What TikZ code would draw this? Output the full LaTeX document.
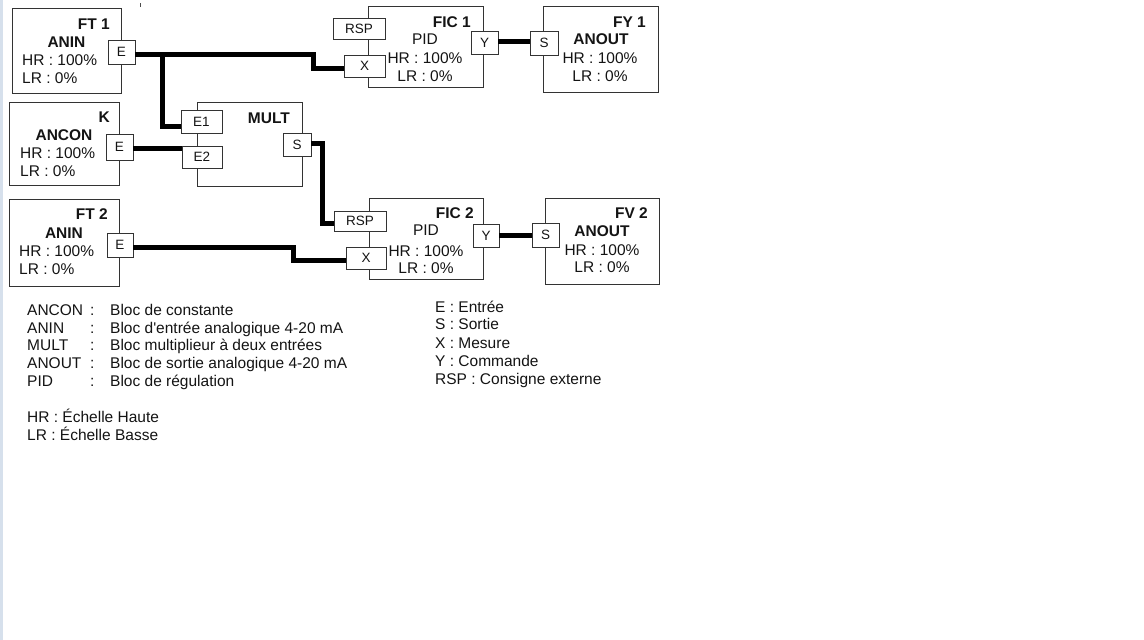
\documentclass[tikz,border=0pt]{standalone}
\usepackage{fontspec}
\setmainfont{Liberation Sans}[Ligatures=TeXOff]
\newcommand\bfs{\fontsize{15.5}{18}\selectfont}
\newcommand\pfs{\fontsize{13.5}{15}\selectfont}
\definecolor{strip}{HTML}{D6E0EC}
\definecolor{ink}{HTML}{141414}
\begin{document}
\begin{tikzpicture}[x=1pt,y=-1pt,
  blk/.style={draw=black!80, line width=0.9pt, fill=white, inner sep=0, anchor=north west},
  port/.style={draw=black!80, line width=0.9pt, fill=white, inner sep=0, font=\pfs, text=ink},
  wire/.style={line width=5pt, line join=miter, draw=black},
  lbl/.style={inner sep=0, font=\bfs, text=ink},
  bld/.style={inner sep=0, font=\bfs\bfseries, text=ink}]
\useasboundingbox (0,0) rectangle (1144,640);
\fill[white] (0,0) rectangle (1144,640);
\fill[strip] (0,0) rectangle (3,640);
\draw[line width=0.8pt, black!70] (140.7,3) -- (140.7,6.5);

% blocks
\node[blk, minimum width=109, minimum height=85] (ft1) at (12,8) {};
\node[blk, minimum width=110, minimum height=83] (k) at (9,102) {};
\node[blk, minimum width=110, minimum height=87] (ft2) at (9,199) {};
\node[blk, minimum width=105, minimum height=84] (mult) at (197,102) {};
\node[blk, minimum width=115, minimum height=81] (fic1) at (368,6) {};
\node[blk, minimum width=115, minimum height=86] (fy1) at (543,6) {};
\node[blk, minimum width=114, minimum height=81] (fic2) at (369,198) {};
\node[blk, minimum width=114, minimum height=86] (fv2) at (545,198) {};

% ports
\node[port, minimum width=27, minimum height=24] (ft1e) at (121.5,52) {E};
\node[port, minimum width=27, minimum height=26] (ke) at (119.5,147) {E};
\node[port, minimum width=26, minimum height=24] (ft2e) at (120,245) {E};
\node[port, minimum width=41, minimum height=23] (e1) at (201.5,121.5) {E1};
\node[port, minimum width=40, minimum height=22] (e2) at (202,157) {E2};
\node[port, minimum width=28, minimum height=23] (ms) at (297,144.5) {S};
\node[port, minimum width=52, minimum height=21] (rsp1) at (359,28.5) {RSP};
\node[port, minimum width=41, minimum height=22] (x1) at (364.5,66) {X};
\node[port, minimum width=27, minimum height=23] (y1) at (484.5,42.5) {Y};
\node[port, minimum width=28, minimum height=24] (s1) at (544,43) {S};
\node[port, minimum width=52, minimum height=20] (rsp2) at (360,221) {RSP};
\node[port, minimum width=40, minimum height=22] (x2) at (366,258) {X};
\node[port, minimum width=26, minimum height=23] (y2) at (486,235.5) {Y};
\node[port, minimum width=27, minimum height=24] (s2) at (545.5,235) {S};

% wires
\coordinate (a1) at (162,54);
\coordinate (c1) at (313,54);
\coordinate (c2) at (313,68);
\draw[wire] (ft1e.east |- a1) -- (c1) -- (c2) -- (c2 -| x1.west);
\coordinate (a2) at (162,126);
\draw[wire] (a1) -- (a2) -- (a2 -| e1.west);
\coordinate (a3) at (140,148);
\draw[wire] (ke.east |- a3) -- (e2.west |- a3);
\coordinate (a4) at (322,143);
\coordinate (a5) at (322,223);
\draw[wire] (ms.east |- a4) -- (a4) -- (a5) -- (a5 -| rsp2.west);
\coordinate (a6) at (293,247);
\coordinate (a7) at (293,260);
\draw[wire] (ft2e.east |- a6) -- (a6) -- (a7) -- (a7 -| x2.west);
\coordinate (a8) at (500,41);
\draw[wire] (y1.east |- a8) -- (s1.west |- a8);
\coordinate (a9) at (500,235);
\draw[wire] (y2.east |- a9) -- (s2.west |- a9);

% FT1 texts
\node[bld, anchor=base east] (t1) at (110,29) {FT 1};
\node[bld, anchor=base] (t2) at (66.5,47.5) {ANIN};
\node[lbl, anchor=base west] (t3) at (22,65) {HR : 100\%};
\node[lbl, anchor=base west] (t4) at (22,83) {LR : 0\%};
% K texts
\node[bld, anchor=base east] (t5) at (110,122) {K};
\node[bld, anchor=base] (t6) at (64,140) {ANCON};
\node[lbl, anchor=base west] (t7) at (20,158) {HR : 100\%};
\node[lbl, anchor=base west] (t8) at (20,176) {LR : 0\%};
% FT2 texts
\node[bld, anchor=base east] (t9) at (108,219) {FT 2};
\node[bld, anchor=base] (t10) at (64,238) {ANIN};
\node[lbl, anchor=base west] (t11) at (19,256) {HR : 100\%};
\node[lbl, anchor=base west] (t12) at (19,274) {LR : 0\%};
% MULT
\node[bld, anchor=base east] (t13) at (290,123) {MULT};
% FIC1
\node[bld, anchor=base east] (t14) at (471,27) {FIC 1};
\node[lbl, anchor=base] (t15) at (425,44) {PID};
\node[lbl, anchor=base] (t16) at (425,63) {HR : 100\%};
\node[lbl, anchor=base] (t17) at (425,81) {LR : 0\%};
% FY1
\node[bld, anchor=base east] (t18) at (646,27) {FY 1};
\node[bld, anchor=base] (t19) at (601,44) {ANOUT};
\node[lbl, anchor=base] (t20) at (600,63) {HR : 100\%};
\node[lbl, anchor=base] (t21) at (600,81) {LR : 0\%};
% FIC2
\node[bld, anchor=base east] (t22) at (474,218) {FIC 2};
\node[lbl, anchor=base] (t23) at (426,235) {PID};
\node[lbl, anchor=base] (t24) at (426,256) {HR : 100\%};
\node[lbl, anchor=base] (t25) at (426,273) {LR : 0\%};
% FV2
\node[bld, anchor=base east] (t26) at (648,218) {FV 2};
\node[bld, anchor=base] (t27) at (602,236) {ANOUT};
\node[lbl, anchor=base] (t28) at (602,255) {HR : 100\%};
\node[lbl, anchor=base] (t29) at (602,272) {LR : 0\%};

% legend left
\node[lbl, anchor=base west] (l1) at (27,315) {ANCON};
\node[lbl, anchor=base west] (l2) at (27,333) {ANIN};
\node[lbl, anchor=base west] (l3) at (27,350) {MULT};
\node[lbl, anchor=base west] (l4) at (27,368) {ANOUT};
\node[lbl, anchor=base west] (l5) at (27,386) {PID};
\node[lbl, anchor=base west] (k1) at (90,315) {:};
\node[lbl, anchor=base west] (k2) at (90,333) {:};
\node[lbl, anchor=base west] (k3) at (90,350) {:};
\node[lbl, anchor=base west] (k4) at (90,368) {:};
\node[lbl, anchor=base west] (k5) at (90,386) {:};
\node[lbl, anchor=base west] (d1) at (110,315) {Bloc de constante};
\node[lbl, anchor=base west] (d2) at (110,333) {Bloc d'entrée analogique 4-20 mA};
\node[lbl, anchor=base west] (d3) at (110,350) {Bloc multiplieur à deux entrées};
\node[lbl, anchor=base west] (d4) at (110,368) {Bloc de sortie analogique 4-20 mA};
\node[lbl, anchor=base west] (d5) at (110,386) {Bloc de régulation};
\node[lbl, anchor=base west] (h1) at (27,422) {HR : Échelle Haute};
\node[lbl, anchor=base west] (h2) at (27,440) {LR : Échelle Basse};
% legend right
\node[lbl, anchor=base west] (r1) at (435,312) {E : Entrée};
\node[lbl, anchor=base west] (r2) at (435,329) {S : Sortie};
\node[lbl, anchor=base west] (r3) at (435,348) {X : Mesure};
\node[lbl, anchor=base west] (r4) at (435,366) {Y : Commande};
\node[lbl, anchor=base west] (r5) at (435,384) {RSP : Consigne externe};
\end{tikzpicture}
\end{document}
